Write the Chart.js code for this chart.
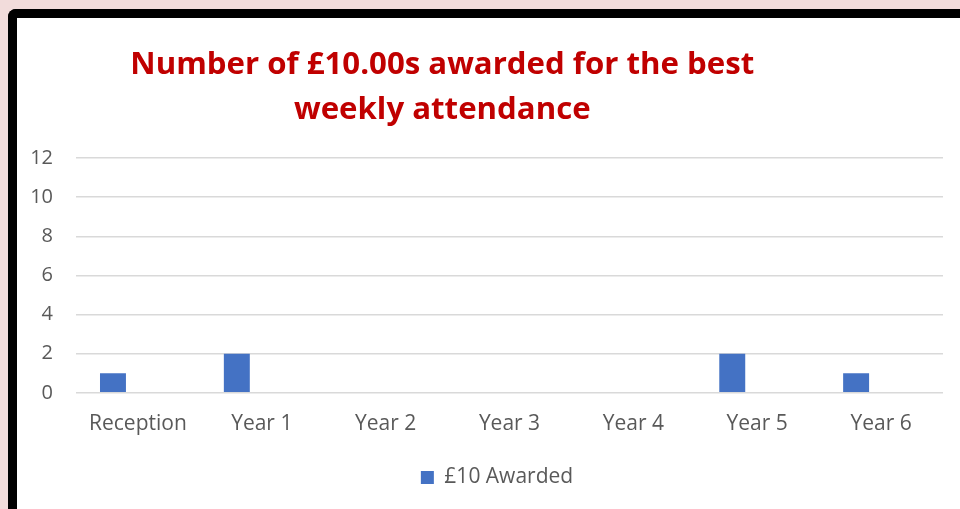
<!DOCTYPE html>
<html>
<head>
<meta charset="utf-8">
<script src="https://cdn.jsdelivr.net/npm/chart.js@4.4.0/dist/chart.umd.min.js"></script>
<style>
  html, body { margin: 0; padding: 0; width: 960px; height: 509px; overflow: hidden; background: #F2DCDB; }
  .frame { position: absolute; left: 8px; top: 9px; width: 1000px; height: 560px;
           border-left: 9px solid #000; border-top: 9px solid #000; border-top-left-radius: 8px; background: #fff; }
  .box { position: absolute; left: 0; top: 0; width: 960px; height: 492px; }
</style>
</head>
<body>
<div class="frame"><div class="box"><canvas id="chart"></canvas></div></div>
<script>
"use strict";

var categories = ['Reception', 'Year 1', 'Year 2', 'Year 3', 'Year 4', 'Year 5', 'Year 6'];
var awarded = [1, 2, 0, 0, 0, 2, 1];
var emptySeries = [null, null, null, null, null, null, null];
var titleLines = ['Number of £10.00s awarded for the best', 'weekly attendance'];
var yTicks = [0, 2, 4, 6, 8, 10, 12];

var FONT = "'Open Sans', 'Liberation Sans', sans-serif";

// title is drawn off-centre, like the original
var titlePlugin = {
    id: 'offTitle',
    afterDraw: function(chart) {
        var ctx = chart.ctx;
        ctx.save();
        ctx.fillStyle = '#C00000';
        ctx.font = 'bold 31.2px ' + FONT;
        ctx.textAlign = 'center';
        ctx.textBaseline = 'middle';
        var cx = chart.width * 0.443;
        ctx.fillText(titleLines[0], cx, 47);
        ctx.fillText(titleLines[1], cx, 92);
        ctx.restore();
    }
};

var ctx = document.getElementById('chart');
var chart = new Chart(ctx, {
    type: 'bar',
    data: {
        labels: categories,
        datasets: [
            {
                label: '£10 Awarded',
                data: awarded,
                backgroundColor: '#4472C4',
                categoryPercentage: 0.806,
                barPercentage: 0.52
            },
            {
                label: '',
                data: emptySeries,
                backgroundColor: '#ED7D31',
                categoryPercentage: 0.806,
                barPercentage: 0.52
            }
        ]
    },
    options: {
        responsive: true,
        maintainAspectRatio: false,
        animation: false,
        layout: { padding: { top: 140, left: 13, right: 13, bottom: 12 } },
        plugins: {
            title: { display: false },
            tooltip: { enabled: false },
            legend: {
                position: 'bottom',
                labels: {
                    color: '#595959',
                    font: { family: FONT, size: 21 },
                    boxWidth: 13,
                    boxHeight: 13,
                    padding: 19,
                    filter: function(item) { return item.text !== ''; }
                }
            }
        },
        scales: {
            x: {
                grid: { display: false },
                border: { display: false },
                ticks: { color: '#595959', font: { family: FONT, size: 21 }, padding: 11, maxRotation: 0 },
                afterFit: function(scale) {
                    scale.paddingLeft = 0;
                    scale.paddingRight = 34;
                }
            },
            y: {
                min: yTicks[0],
                max: yTicks[yTicks.length - 1],
                afterBuildTicks: function(axis) {
                    axis.ticks = yTicks.map(function(v) { return { value: v }; });
                },
                afterFit: function(scale) {
                    scale.width = 46;
                },
                grid: { color: '#D9D9D9', lineWidth: 1.5, drawTicks: false },
                border: { display: false },
                ticks: { color: '#595959', font: { family: FONT, size: 20 }, padding: 23 }
            }
        }
    },
    plugins: [titlePlugin]
});
</script>
</body>
</html>
